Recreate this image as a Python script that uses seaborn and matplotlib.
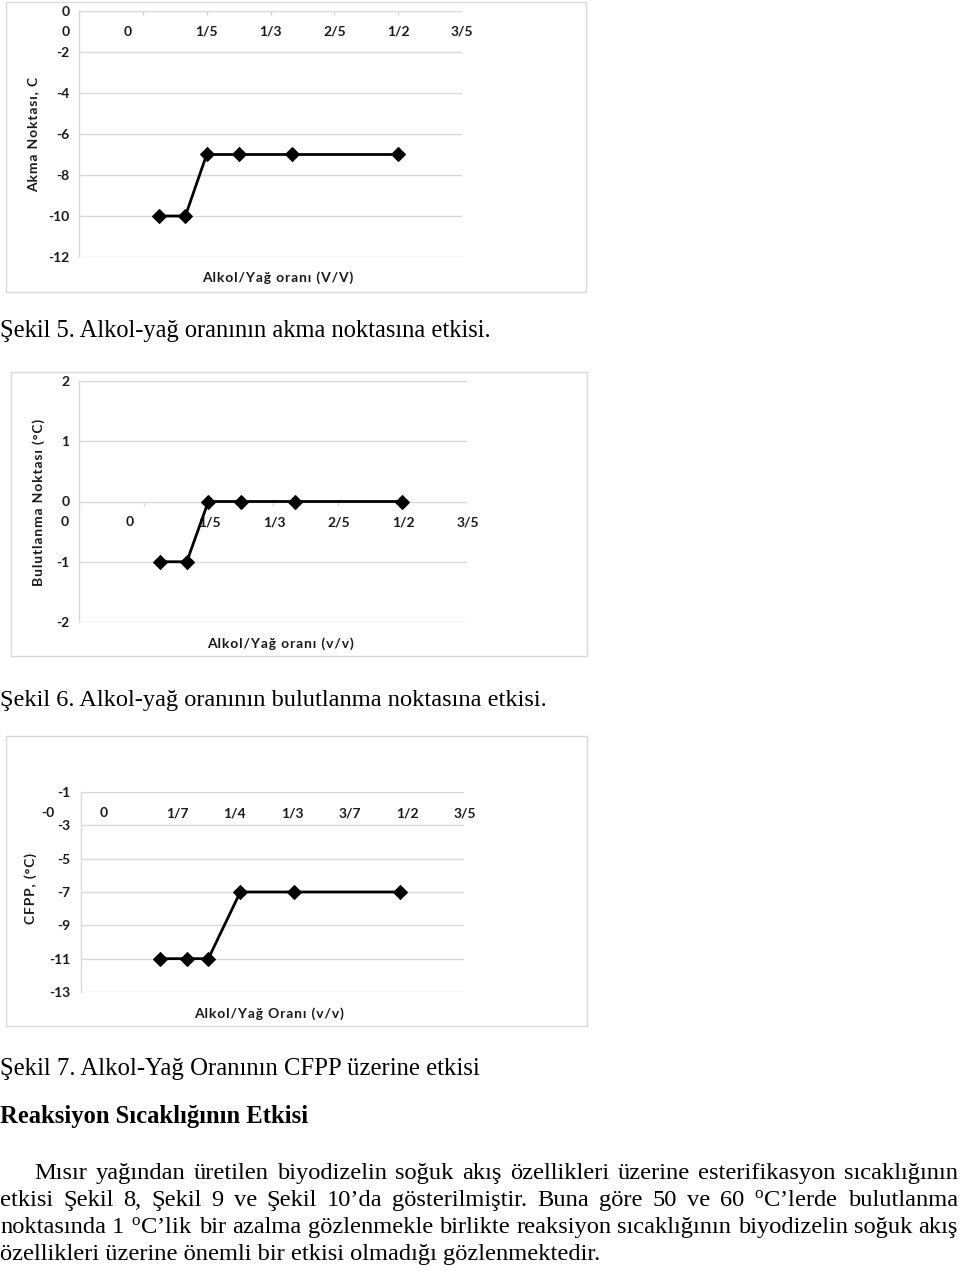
import matplotlib
matplotlib.use("Agg")
import matplotlib.pyplot as plt
from matplotlib.patches import Rectangle
import seaborn as sns
import numpy as np

# ---------------- data ----------------
ratio_a = [1/8, 1/6, 1/5, 1/4, 1/3, 1/2]
akma = [-10, -10, -7, -7, -7, -7]

ratio_b = [1/8, 1/6, 1/5, 1/4, 1/3, 1/2]
bulut = [-1, -1, 0, 0, 0, 0]

ratio_c = [1/8, 1/6, 1/5, 1/4, 1/3, 1/2]
cfpp = [-11, -11, -11, -7, -7, -7]

xt_ab = [0, 0.1, 0.2, 0.3, 0.4, 0.5, 0.6]
xl_ab = ["0", "0", "1/5", "1/3", "2/5", "1/2", "3/5"]
xt_c = [-0.03, 0.06, 0.15, 0.24, 0.33, 0.42, 0.51, 0.60]
xl_c = ["-0", "0", "1/7", "1/4", "1/3", "3/7", "1/2", "3/5"]

yt_a = [0, -2, -4, -6, -8, -10, -12]
yl_a = ["0", "-2", "-4", "-6", "-8", "-10", "-12"]
yt_b = [2, 1, 0, -1, -2]
yl_b = ["2", "1", "0", "-1", "-2"]
yt_c = [-1, -3, -5, -7, -9, -11, -13]
yl_c = ["-1", "-3", "-5", "-7", "-9", "-11", "-13"]

# ---------------- setup ----------------
sns.set_theme(style="white")
plt.rcParams['font.family'] = ['Lato', 'DejaVu Sans']
plt.rcParams['axes.unicode_minus'] = False
plt.rcParams['mathtext.fontset'] = 'custom'
plt.rcParams['mathtext.rm'] = 'Liberation Serif'
plt.rcParams['mathtext.it'] = 'Liberation Serif:italic'
plt.rcParams['mathtext.bf'] = 'Liberation Serif:bold'

W, H = 960, 1271
fig = plt.figure(figsize=(W / 100, H / 100), dpi=100)
fig.patch.set_facecolor('white')

GRID = '#d9d9d9'
TXT = '#1a1a1a'
CFS = 10


def fx(x):
    return x / W


def fy(y):
    return 1 - y / H


def box(l, t, r, b):
    fig.patches.append(Rectangle((fx(l), fy(b)), fx(r - l), (b - t) / H,
                                 transform=fig.transFigure, fill=False,
                                 edgecolor=GRID, linewidth=1.0))


def spaced(s):
    return '\u200a'.join(s)


def chart(rect, x, y, ylim, yt, yl, xt, xl, xcross, xoffs, ticks, ylabel, yl_pos, xlabel, xl_pos):
    l, t, r, b = rect
    ax = fig.add_axes([fx(l), fy(b), (r - l) / W, (b - t) / H])
    ax.set_facecolor('none')
    sns.lineplot(x=x, y=y, ax=ax, color='black', marker='D', markersize=7,
                 linewidth=2.0, markeredgecolor='black', zorder=5)
    ax.set_xlim(0, 0.6)
    ax.set_ylim(*ylim)
    for s in ['top', 'right', 'bottom']:
        ax.spines[s].set_visible(False)
    ax.spines['left'].set_color(GRID)
    ax.spines['left'].set_linewidth(1.0)
    ax.set_yticks(yt)
    ax.set_yticklabels(yl, fontsize=CFS, fontweight='bold', color=TXT)
    ax.tick_params(axis='y', length=0, pad=7)
    ax.set_xticks([])
    for v in yt:
        ax.axhline(v, color=GRID, linewidth=1.0, zorder=0)
    if ticks:
        ax.vlines(xt, xcross, xcross - (ylim[1] - ylim[0]) * 4 / ((b - t)),
                  color=GRID, linewidth=1.0, zorder=1)
    for v, s, dx in zip(xt, xl, xoffs):
        ax.annotate(s, xy=(v, xcross), xycoords='data', xytext=(dx, -21),
                    textcoords='offset pixels', ha='center', va='center',
                    fontsize=CFS, fontweight='bold', color=TXT, annotation_clip=False)
    ax.set_xlabel('')
    ax.set_ylabel('')
    fig.text(fx(yl_pos[0]), fy(yl_pos[1]), spaced(ylabel), rotation=90, ha='center', va='center',
             fontsize=CFS, fontweight='bold', color=TXT)
    fig.text(fx(xl_pos[0]), fy(xl_pos[1]), spaced(xlabel), ha='center', va='center',
             fontsize=CFS, fontweight='bold', color=TXT)
    return ax


# chart 1
box(6, 2, 586, 292)
chart((79, 11, 462, 257), ratio_a, akma, (-12, 0), yt_a, yl_a, xt_ab, xl_ab, 0,
      [-13, -15, 0, 0, 0, 0, 0], True, "Akma Noktası, C", (33, 134),
      "Alkol/Yağ oranı (V/V)", (278, 278))

# chart 2
box(11, 372, 587, 656)
chart((79, 381, 467, 622), ratio_b, bulut, (-2, 2), yt_b, yl_b, xt_ab, xl_ab, 0,
      [-14, -14, 1, 1, 1, 1, 1], True, "Bulutlanma Noktası (°C)", (39, 502),
      "Alkol/Yağ oranı (v/v)", (280, 644))

# chart 3
box(6, 736, 587, 1026)
chart((80.5, 792, 464, 992), ratio_c, cfpp, (-13, -1), yt_c, yl_c, xt_c, xl_c, -1,
      [-13, -15, 1, 1, 1, 1, 1, 1], False, "CFPP, (°C)", (31, 889),
      "Alkol/Yağ Oranı (v/v)", (269, 1014))

# ---------------- text ----------------
renderer = fig.canvas.get_renderer()
SERIF = 'Liberation Serif'


def fit_text(s, x0, ybase, width, weight='normal'):
    t = fig.text(fx(x0), fy(ybase), s, fontsize=20, family=SERIF, fontweight=weight,
                 ha='left', va='baseline', color='black')
    w = t.get_window_extent(renderer).width
    t.set_fontsize(20 * width / w)
    return t


fit_text("Şekil 5. Alkol-yağ oranının akma noktasına etkisi.", 0, 337, 493)
fit_text("Şekil 6. Alkol-yağ oranının bulutlanma noktasına etkisi.", 0, 706, 548)
fit_text("Şekil 7. Alkol-Yağ Oranının CFPP üzerine etkisi", 0, 1075, 480)
fit_text("Reaksiyon Sıcaklığının Etkisi", 0, 1123, 307, weight='bold')

# paragraph font size from last line width
last = "özellikleri üzerine önemli bir etkisi olmadığı gözlenmektedir."
tl = fit_text(last, 0, 1260, 602)
FS = tl.get_fontsize()

para = [
    ("Mısır yağından üretilen biyodizelin soğuk akış özellikleri üzerine esterifikasyon sıcaklığının", 34, 958, 1179),
    ("etkisi Şekil 8, Şekil 9 ve Şekil 10’da gösterilmiştir. Buna göre 50 ve 60 $^{\\mathrm{o}}$C’lerde bulutlanma", 0, 958, 1206),
    ("noktasında 1 $^{\\mathrm{o}}$C’lik bir azalma gözlenmekle birlikte reaksiyon sıcaklığının biyodizelin soğuk akış", 0, 958, 1233),
]
for line, x0, x1, yb in para:
    words = line.split(' ')
    texts = [fig.text(0, 0, w, fontsize=FS, family=SERIF, ha='left', va='baseline', color='black')
             for w in words]
    widths = [t.get_window_extent(renderer).width for t in texts]
    gap = (x1 - x0 - sum(widths)) / (len(words) - 1)
    x = x0
    for t, w in zip(texts, widths):
        t.set_position((fx(x), fy(yb)))
        x += w + gap

fig.savefig('out.png', dpi=100, facecolor='white')
